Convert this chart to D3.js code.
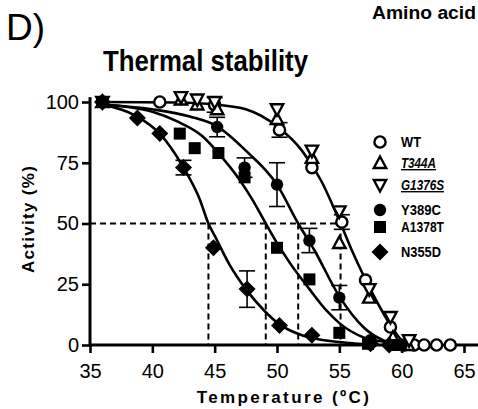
<!DOCTYPE html>
<html>
<head>
<meta charset="utf-8">
<script src="https://cdn.jsdelivr.net/npm/d3@7/dist/d3.min.js"></script>
<style>
  body { margin: 0; background: #fff; }
  svg { display: block; }
  text { font-family: "Liberation Sans", Arial, sans-serif; fill: #000; }
</style>
</head>
<body>
<div id="canvas"></div>
<script>
"use strict";

/* ---------------- DATA ---------------- */
let seriesNames = ["WT", "T344A", "G1376S", "Y389C", "A1378T", "N355D"];

let wtTemp  = [36, 40.6, 45, 50.2, 52.8, 55.2, 57.1, 59.1, 60.2, 61, 61.8, 62.8, 63.9];
let wtAct   = [100, 100, 98.8, 88.5, 73, 50.6, 26.7, 7.4, 0, 0, 0, 0, 0];
let wtErr   = [0, 0, 3, 3, 0, 3, 0, 0, 0, 0, 0, 0, 0];

let t344Temp = [36, 42.3, 43.6, 45.2, 50, 52.8, 55, 57.4, 59.3, 60.5];
let t344Act  = [100, 101, 99, 97, 93, 77, 42, 19.5, 3, 0];
let t344Err  = [0, 0, 0, 0, 0, 0, 0, 0, 0, 0];

let g1376Temp = [36, 42.3, 43.6, 45, 50, 52.8, 55, 57.4, 59.1, 60.6];
let g1376Act  = [100, 102, 101, 100, 97, 80, 55, 23, 11.5, 2];
let g1376Err  = [0, 0, 0, 0, 0, 0, 0, 0, 0, 0];

let y389Temp = [36, 45.2, 47.4, 50, 52.6, 55, 57.5, 60];
let y389Act  = [100, 89.7, 73, 66, 43, 19.5, 2, 0];
let y389Err  = [0, 4, 4, 9, 5, 5, 0, 0];

let a1378Temp = [36, 42.2, 43.4, 45.3, 47.4, 50, 52.6, 55, 57.3, 59.5];
let a1378Act  = [100, 87, 81, 79, 69, 40, 27, 5, 0.5, 0];
let a1378Err  = [0, 0, 0, 0, 0, 0, 0, 0, 0, 0];

let n355Temp = [36, 38.8, 40.6, 42.5, 44.9, 47.6, 50.2, 52.8, 57.5, 59];
let n355Act  = [100, 93.4, 87, 73, 40, 23, 8, 4, 0.5, 0];
let n355Err  = [0, 0, 0, 3, 0, 7.5, 0, 0, 0, 0];

/* fitted curves */
let wtFitTemp   = [36, 42, 45, 47.5, 50, 52, 53.5, 55.1, 56, 57, 58, 59, 60, 60.6];
let wtFitAct    = [100, 99.8, 99, 97, 90, 80, 68, 50, 39, 28, 18, 9, 2, 0];
let y389FitTemp = [36, 40, 43, 45.2, 47.5, 50, 51.7, 53, 55, 57, 58.5, 60];
let y389FitAct  = [99, 97, 94, 90, 80, 66, 50, 39, 20, 7, 2, 0];
let a1378FitTemp = [36, 40, 42, 44, 45.3, 47, 48, 49.1, 50, 51, 52.6, 54, 55, 57, 59, 60];
let a1378FitAct  = [99, 96, 92, 86, 79, 68, 60, 50, 42, 34, 23, 14, 9, 3, 1, 0];
let n355FitTemp = [36, 38.8, 40.6, 42.5, 43.8, 44.5, 45, 46.2, 47.5, 49, 50.2, 52, 55, 58];
let n355FitAct  = [99, 94, 87, 73, 60, 50, 45, 33, 23, 14, 8.5, 4, 1.2, 0];

/* half-activity temperatures (dashed guides) */
let halfTemps = [44.5, 49.1, 51.7, 55.1];

let xTicks = [35, 40, 45, 50, 55, 60, 65];
let yTicks = [0, 25, 50, 75, 100];

/* ---------------- SETUP ---------------- */
let svgWidth = 478;
let svgHeight = 409;

let svg = d3.select("#canvas")
    .append("svg")
    .attr("width", svgWidth)
    .attr("height", svgHeight);

let xScale = d3.scaleLinear().domain([35, 65]).range([90, 464]);
let yScale = d3.scaleLinear().domain([0, 100]).range([345, 102]);

function zip(t, a, e) {
    return t.map(function (d, i) {
        return { t: d, a: a[i], e: e ? e[i] : 0 };
    });
}

let series = [
    { name: "WT",     shape: "circle",   filled: false, pts: zip(wtTemp, wtAct, wtErr) },
    { name: "T344A",  shape: "triUp",    filled: false, pts: zip(t344Temp, t344Act, t344Err) },
    { name: "G1376S", shape: "triDown",  filled: false, pts: zip(g1376Temp, g1376Act, g1376Err) },
    { name: "Y389C",  shape: "circle",   filled: true,  pts: zip(y389Temp, y389Act, y389Err) },
    { name: "A1378T", shape: "square",   filled: true,  pts: zip(a1378Temp, a1378Act, a1378Err) },
    { name: "N355D",  shape: "diamond",  filled: true,  pts: zip(n355Temp, n355Act, n355Err) }
];

let fits = [
    zip(wtFitTemp, wtFitAct),
    zip(y389FitTemp, y389FitAct),
    zip(a1378FitTemp, a1378FitAct),
    zip(n355FitTemp, n355FitAct)
];

/* ---------------- TEXT ---------------- */
svg.append("text")
    .attr("x", 6)
    .attr("y", 40)
    .attr("font-size", "37px")
    .text("D)");

svg.append("text")
    .attr("x", 372)
    .attr("y", 19)
    .attr("font-size", "18px")
    .attr("font-weight", "bold")
    .attr("textLength", 104)
    .attr("lengthAdjust", "spacingAndGlyphs")
    .text("Amino acid");

// condensed bold title (narrow face squeezed to the original width)
svg.append("text")
    .attr("x", 103)
    .attr("y", 71)
    .attr("font-size", "29px")
    .attr("font-weight", "bold")
    .attr("textLength", 205)
    .attr("lengthAdjust", "spacingAndGlyphs")
    .text("Thermal stability");

svg.append("text")
    .attr("transform", "translate(34,219) rotate(-90)")
    .attr("text-anchor", "middle")
    .attr("font-size", "17px")
    .attr("font-weight", "bold")
    .attr("letter-spacing", "1.3px")
    .text("Activity (%)");

svg.append("text")
    .attr("x", 284)
    .attr("y", 403)
    .attr("text-anchor", "middle")
    .attr("font-size", "17px")
    .attr("font-weight", "bold")
    .attr("letter-spacing", "2.4px")
    .text("Temperature (ºC)");

/* ---------------- DASHED GUIDES ---------------- */
let guides = svg.append("g")
    .attr("stroke", "#000")
    .attr("stroke-width", 2)
    .attr("stroke-dasharray", "6,4");

guides.append("line")
    .attr("x1", xScale(35))
    .attr("x2", xScale(d3.max(halfTemps)))
    .attr("y1", yScale(50))
    .attr("y2", yScale(50));

halfTemps.forEach(function (t) {
    guides.append("line")
        .attr("x1", xScale(t))
        .attr("x2", xScale(t))
        .attr("y1", yScale(50))
        .attr("y2", yScale(0));
});

/* ---------------- FIT CURVES ---------------- */
let fitLine = d3.line()
    .x(d => xScale(d.t))
    .y(d => yScale(d.a))
    .curve(d3.curveMonotoneX);

fits.forEach(function (f) {
    svg.append("path")
        .datum(f)
        .attr("d", fitLine)
        .attr("fill", "none")
        .attr("stroke", "#000")
        .attr("stroke-width", 2.6);
});

/* ---------------- AXES ---------------- */
let xAxis = d3.axisBottom(xScale)
    .tickValues(xTicks)
    .tickSize(8)
    .tickSizeOuter(0)
    .tickPadding(11);

let gx = svg.append("g")
    .attr("transform", "translate(0," + yScale(0) + ")")
    .call(xAxis);
gx.select(".domain").remove();
gx.selectAll("line").attr("stroke-width", 2.6);
gx.selectAll("text")
    .attr("font-size", "20px")
    .style("font-family", "'Liberation Sans', Arial, sans-serif");

let yAxis = d3.axisLeft(yScale)
    .tickValues(yTicks)
    .tickSize(8)
    .tickSizeOuter(0)
    .tickPadding(3);

let gy = svg.append("g")
    .attr("transform", "translate(" + xScale(35) + ",0)")
    .call(yAxis);
gy.select(".domain").remove();
gy.selectAll("line").attr("stroke-width", 2.6);
gy.selectAll("text")
    .attr("font-size", "20px")
    .style("font-family", "'Liberation Sans', Arial, sans-serif");

svg.append("line")
    .attr("x1", xScale(35))
    .attr("x2", svgWidth)
    .attr("y1", yScale(0))
    .attr("y2", yScale(0))
    .attr("stroke", "#000")
    .attr("stroke-width", 3);

svg.append("line")
    .attr("x1", xScale(35))
    .attr("x2", xScale(35))
    .attr("y1", yScale(102))
    .attr("y2", yScale(0) + 1.5)
    .attr("stroke", "#000")
    .attr("stroke-width", 3);

/* ---------------- MARKERS ---------------- */
function drawMarker(g, shape, filled, x, y) {
    let fill = filled ? "#000" : "#fff";
    let sw = filled ? 0 : 2.4;
    if (shape === "circle") {
        g.append("circle")
            .attr("cx", x).attr("cy", y)
            .attr("r", filled ? 6.2 : 5.6)
            .attr("fill", fill).attr("stroke", "#000").attr("stroke-width", sw);
    } else if (shape === "square") {
        g.append("rect")
            .attr("x", x - 6).attr("y", y - 6)
            .attr("width", 12).attr("height", 12)
            .attr("fill", "#000");
    } else if (shape === "diamond") {
        g.append("path")
            .attr("d", "M" + x + "," + (y - 8.5) + " L" + (x + 8.5) + "," + y +
                " L" + x + "," + (y + 8.5) + " L" + (x - 8.5) + "," + y + " Z")
            .attr("fill", "#000");
    } else if (shape === "triUp") {
        g.append("path")
            .attr("d", "M" + x + "," + (y - 6.5) + " L" + (x + 6.2) + "," + (y + 5) +
                " L" + (x - 6.2) + "," + (y + 5) + " Z")
            .attr("fill", fill).attr("stroke", "#000").attr("stroke-width", sw)
            .attr("stroke-linejoin", "miter");
    } else if (shape === "triDown") {
        g.append("path")
            .attr("d", "M" + x + "," + (y + 6.5) + " L" + (x + 6.2) + "," + (y - 5) +
                " L" + (x - 6.2) + "," + (y - 5) + " Z")
            .attr("fill", fill).attr("stroke", "#000").attr("stroke-width", sw)
            .attr("stroke-linejoin", "miter");
    }
}

let marksLayer = svg.append("g");

series.forEach(function (s) {
    let g = marksLayer.append("g").attr("class", "series-" + s.name);

    s.pts.forEach(function (p) {
        if (p.e > 0) {
            let x = xScale(p.t);
            let y0 = yScale(p.a - p.e);
            let y1 = yScale(p.a + p.e);
            g.append("line")
                .attr("x1", x).attr("x2", x).attr("y1", y0).attr("y2", y1)
                .attr("stroke", "#000").attr("stroke-width", 1.6);
            [y0, y1].forEach(function (yy) {
                g.append("line")
                    .attr("x1", x - 8).attr("x2", x + 8).attr("y1", yy).attr("y2", yy)
                    .attr("stroke", "#000").attr("stroke-width", 1.6);
            });
        }
    });

    s.pts.forEach(function (p) {
        drawMarker(g, s.shape, s.filled, xScale(p.t), yScale(p.a));
    });
});

/* ---------------- LEGEND ---------------- */
let legendRowY = [142, 163, 185, 210, 227, 252];
let legendWidths = [20, 35, 43, 40, 43, 40];
let legendSymX = 380;
let legendTextX = 401;

series.forEach(function (s, i) {
    drawMarker(svg, s.shape, s.filled, legendSymX, legendRowY[i]);

    let t = svg.append("text")
        .attr("x", legendTextX)
        .attr("y", legendRowY[i] + 5)
        .attr("font-size", "14px")
        .attr("font-weight", "bold")
        .attr("textLength", legendWidths[i])
        .attr("lengthAdjust", "spacingAndGlyphs")
        .text(s.name);

    if (s.name === "T344A" || s.name === "G1376S") {
        t.attr("font-style", "italic")
         .attr("text-decoration", "underline");
    }
});
</script>
</body>
</html>
